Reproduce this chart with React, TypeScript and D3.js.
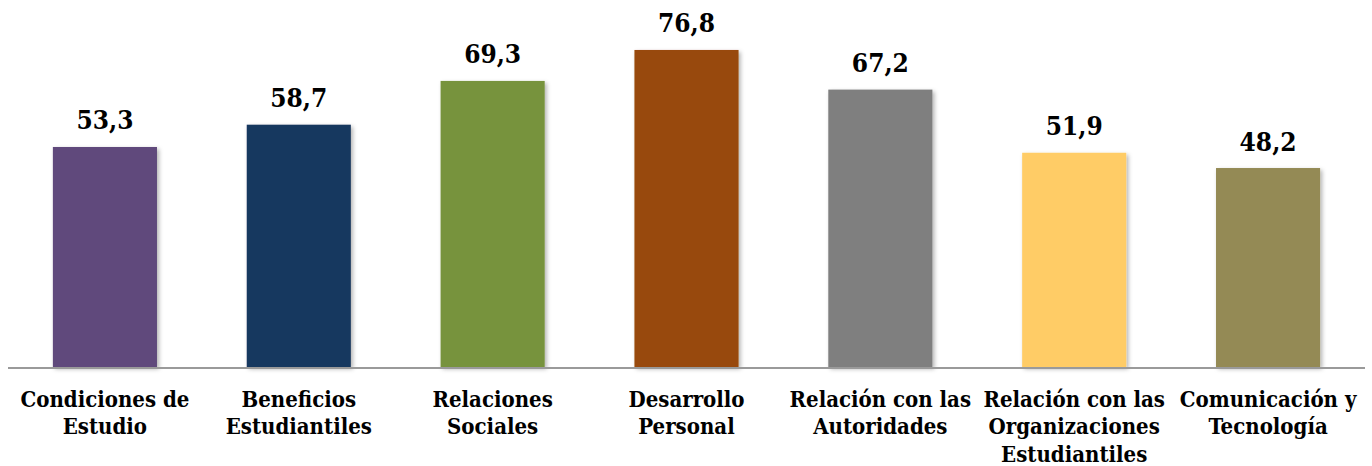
import React from "react";
import * as d3 from "d3";

const categories: string[][] = [
  ["Condiciones de", "Estudio"],
  ["Beneficios", "Estudiantiles"],
  ["Relaciones", "Sociales"],
  ["Desarrollo", "Personal"],
  ["Relación con las", "Autoridades"],
  ["Relación con las", "Organizaciones", "Estudiantiles"],
  ["Comunicación y", "Tecnología"],
];
const values: number[] = [53.3, 58.7, 69.3, 76.8, 67.2, 51.9, 48.2];
const colors: string[] = ["#604A7B", "#17375E", "#77933C", "#984807", "#7F7F7F", "#FFCC66", "#948A54"];

const W = 1372;
const H = 466;
const FONT = "'DejaVu Serif', 'Liberation Serif', serif";

export default function App() {
  const ids = categories.map((_, i) => String(i));
  const x = d3.scaleBand<string>().domain(ids).range([8, 1365]).paddingInner(0.463).paddingOuter(0.2315);
  const y = d3.scaleLinear().domain([0, 80]).range([367, 367 - 80 * 4.128]);
  const fmt = (v: number) => v.toFixed(1).replace(".", ",");

  return (
    <svg
      width={W}
      height={H}
      style={{ position: "absolute", left: 0, top: 0, background: "#fff" }}
    >
      <defs>
        <filter id="sh" x="-20%" y="-20%" width="140%" height="140%">
          <feDropShadow dx="2" dy="2" stdDeviation="2" floodColor="#000" floodOpacity="0.3" />
        </filter>
      </defs>
      {values.map((v, i) => {
        const bx = x(String(i))!;
        const bw = x.bandwidth();
        return (
          <g key={i}>
            <rect x={bx} y={y(v)} width={bw} height={y(0) - y(v)} fill={colors[i]} filter="url(#sh)" />
            <text
              x={bx + bw / 2}
              y={y(v) - 17.5}
              textAnchor="middle"
              fontFamily={FONT}
              fontWeight="bold"
              fontSize={26}
              style={{ fontStretch: "condensed" }}
              fill="#000"
            >
              {fmt(v)}
            </text>
          </g>
        );
      })}
      <line x1={8} x2={1365} y1={368} y2={368} stroke="#9A9A9A" strokeWidth={2} />
      {categories.map((lines, i) => {
        const cx = x(String(i))! + x.bandwidth() / 2;
        return (
          <text
            key={i}
            x={cx}
            textAnchor="middle"
            fontFamily={FONT}
            fontWeight="bold"
            fontSize={22}
            style={{ fontStretch: "condensed" }}
            fill="#000"
          >
            {lines.map((l, j) => (
              <tspan key={j} x={cx} y={407 + j * 27.3}>
                {l}
              </tspan>
            ))}
          </text>
        );
      })}
    </svg>
  );
}
